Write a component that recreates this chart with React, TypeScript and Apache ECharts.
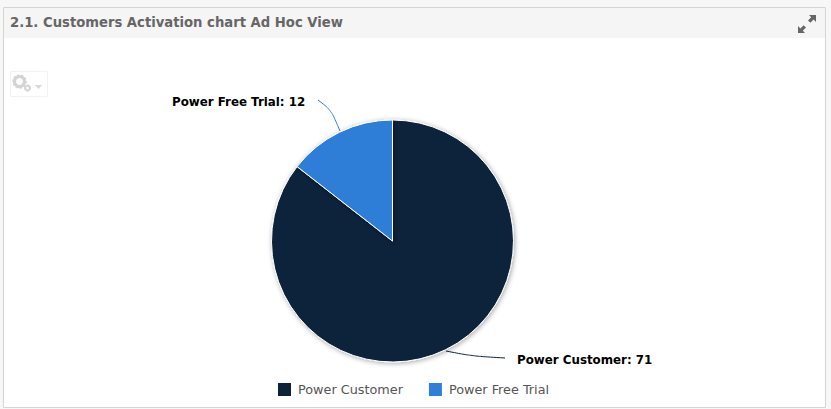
import React, { useEffect, useRef } from "react";
import * as echarts from "echarts";

const categories = ["Power Customer", "Power Free Trial"];
const seriesValues = [71, 12];
const colors = ["#0d233a", "#2f7ed8"];
const titleText = "2.1. Customers Activation chart Ad Hoc View";

echarts.graphic.registerShape(
  "expandIcon",
  echarts.graphic.extendPath(
    "M11 0h7v7l-2.4-2.4-3.2 3.2-2.4-2.4 3.2-3.2zM0 18v-7l2.4 2.4 3.2-3.2 2.4 2.4-3.2 3.2L7 18z",
    {}
  )
);

export default function App() {
  const ref = useRef<HTMLDivElement>(null);
  useEffect(() => {
    const chart = echarts.init(ref.current!, undefined, { renderer: "svg" });
    chart.setOption({
      animation: false,
      backgroundColor: "#f7f7f7",
      legend: {
        data: categories,
        left: 271,
        top: 376,
        itemWidth: 15,
        itemHeight: 15,
        itemGap: 24,
        icon: "rect",
        textStyle: { fontFamily: "DejaVu Sans", fontSize: 12.8, color: "#555555", padding: [0, 0, 0, 1] },
      },
      graphic: [
        { type: "rect", z: 0, shape: { x: 3.5, y: 7.5, width: 822, height: 400 }, style: { fill: "#ffffff", stroke: "#d4d4d4", lineWidth: 1 } },
        { type: "rect", z: 0, shape: { x: 4, y: 8, width: 821, height: 30 }, style: { fill: "#f5f5f5" } },
        { type: "text", z: 1, x: 10, y: 16, style: { text: titleText, fontFamily: "DejaVu Sans", fontWeight: "bold", fontSize: 13.2, fill: "#666666" } },
        { type: "expandIcon", z: 1, x: 798, y: 15, style: { fill: "#666666" } },
        { type: "rect", z: 1, shape: { x: 10.5, y: 71.5, width: 37, height: 25 }, style: { fill: "#ffffff", stroke: "#f2f2f2", lineWidth: 1 } },
        { type: "circle", z: 2, shape: { cx: 19.5, cy: 81.5, r: 5 }, style: { fill: "#ffffff", stroke: "#d4d4d4", lineWidth: 3 } },
        { type: "circle", z: 2, shape: { cx: 19.5, cy: 81.5, r: 6.5 }, style: { fill: "none", stroke: "#d4d4d4", lineWidth: 1.5, lineDash: [2, 2] } },
        { type: "circle", z: 2, shape: { cx: 27.5, cy: 88, r: 2.5 }, style: { fill: "#ffffff", stroke: "#d4d4d4", lineWidth: 2 } },
        { type: "polygon", z: 2, shape: { points: [[35, 85], [42, 85], [38.5, 89]] }, style: { fill: "#d8d8d8" } },
      ],
      series: [
        {
          type: "pie",
          center: [392.5, 241],
          radius: [0, 121],
          startAngle: 90,
          clockwise: true,
          data: categories.map((name, i) => ({ name, value: seriesValues[i], itemStyle: { color: colors[i] } })),
          itemStyle: {
            borderColor: "#ffffff",
            borderWidth: 1,
            shadowColor: "rgba(0,0,0,0.35)",
            shadowBlur: 5,
            shadowOffsetX: 1,
            shadowOffsetY: 1,
          },
          emphasis: { disabled: true },
          label: {
            show: true,
            formatter: "{b}: {c}",
            fontFamily: "DejaVu Sans",
            fontWeight: "bold",
            fontSize: 11.85,
            color: "#000000",
          },
          labelLine: { show: true, smooth: 0.3, lineStyle: { width: 1 } },
          labelLayout: (params: any) =>
            params.dataIndex === 0
              ? { x: 517, y: 360, align: "left", verticalAlign: "middle", labelLinePoints: [[446, 351], [472, 356], [505, 358]] }
              : { x: 172, y: 102, align: "left", verticalAlign: "middle", labelLinePoints: [[340, 131], [331, 110], [318, 100]] },
        },
      ],
    });
    return () => chart.dispose();
  }, []);
  return <div ref={ref} style={{ position: "absolute", left: 0, top: 0, width: 831, height: 409 }} />;
}
